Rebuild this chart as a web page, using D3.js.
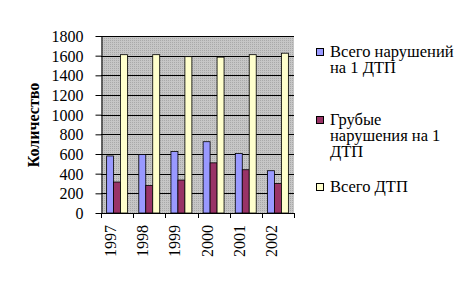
<!DOCTYPE html>
<html>
<head>
<meta charset="utf-8">
<script src="https://cdn.jsdelivr.net/npm/d3@7"></script>
<style>
  body { margin: 0; background: #fff; }
</style>
</head>
<body>
<div id="chart"></div>
<script>
const years = ['1997', '1998', '1999', '2000', '2001', '2002'];
const seriesNames = ['Всего нарушений на 1 ДТП', 'Грубые нарушения на 1 ДТП', 'Всего ДТП'];
const totalViolations = [580, 595, 625, 725, 605, 430];
const grossViolations = [315, 280, 335, 510, 440, 300];
const totalAccidents = [1610, 1610, 1590, 1585, 1610, 1625];
const yTicks = [0, 200, 400, 600, 800, 1000, 1200, 1400, 1600, 1800];

const colors = ['#9999ff', '#993366', '#ffffcc'];
// legend lines as they wrap in the picture
const legendLines = [['Всего нарушений', 'на 1 ДТП'], ['Грубые', 'нарушения на 1', 'ДТП'], ['Всего ДТП']];

const width = 468, height = 283;
const plot = { left: 101, right: 294, top: 36, bottom: 213 };
const serif = '"Liberation Serif"';

const svg = d3.select('#chart').append('svg')
  .attr('width', width)
  .attr('height', height);

// dithered grey background like the old excel pattern
const defs = svg.append('defs');
const pat = defs.append('pattern')
  .attr('id', 'dots')
  .attr('width', 2).attr('height', 2)
  .attr('patternUnits', 'userSpaceOnUse');
pat.append('rect').attr('width', 2).attr('height', 2).attr('fill', '#c6c6c6');
pat.append('rect').attr('width', 1).attr('height', 1).attr('fill', '#a9a9a9');

const x0 = d3.scaleBand()
  .domain(years)
  .range([plot.left, plot.right])
  .paddingInner(0.35)
  .paddingOuter(0.175);

const x1 = d3.scaleBand()
  .domain([0, 1, 2])
  .range([0, x0.bandwidth()]);

const y = d3.scaleLinear()
  .domain([0, 1800])
  .range([plot.bottom, plot.top]);

svg.append('rect')
  .attr('x', plot.left)
  .attr('y', plot.top)
  .attr('width', plot.right - plot.left)
  .attr('height', plot.bottom - plot.top)
  .attr('fill', 'url(#dots)');

// gridlines
svg.append('g')
  .selectAll('line')
  .data(yTicks.slice(1))
  .enter()
  .append('line')
  .attr('x1', plot.left)
  .attr('x2', plot.right)
  .attr('y1', d => Math.round(y(d)) + 0.5)
  .attr('y2', d => Math.round(y(d)) + 0.5)
  .attr('stroke', '#000')
  .attr('stroke-width', 1);

// bars
const rows = years.map((yr, i) => ({ year: yr, values: [totalViolations[i], grossViolations[i], totalAccidents[i]] }));

svg.append('g')
  .selectAll('g')
  .data(rows)
  .enter()
  .append('g')
  .attr('transform', d => `translate(${x0(d.year)},0)`)
  .selectAll('rect')
  .data(d => d.values.map((v, k) => ({ k, v })))
  .enter()
  .append('rect')
  .attr('x', d => x1(d.k))
  .attr('y', d => y(d.v))
  .attr('width', x1.bandwidth())
  .attr('height', d => y(0) - y(d.v))
  .attr('fill', d => colors[d.k])
  .attr('stroke', '#000')
  .attr('stroke-width', 0.8);

// y axis
const yAxis = svg.append('g')
  .attr('transform', `translate(${plot.left + 0.5},0)`)
  .call(d3.axisLeft(y).tickValues(yTicks).tickFormat(d3.format('d')).tickSize(6).tickPadding(12).tickSizeOuter(0));
yAxis.attr('font-family', serif).attr('font-size', 16);
yAxis.select('.domain').attr('stroke', '#000');
yAxis.selectAll('.tick line').attr('stroke', '#000');
yAxis.selectAll('text')
  .style('font-family', serif)
  .attr('fill', '#000')
  .attr('dy', '0.35em');

// x axis, ticks on category boundaries
const xAxisG = svg.append('g');
xAxisG.append('line')
  .attr('x1', plot.left).attr('x2', plot.right)
  .attr('y1', plot.bottom + 0.5).attr('y2', plot.bottom + 0.5)
  .attr('stroke', '#000');
xAxisG.selectAll('.tk')
  .data(d3.range(years.length + 1))
  .enter()
  .append('line')
  .attr('x1', i => Math.round(plot.left + i * x0.step()) + 0.5)
  .attr('x2', i => Math.round(plot.left + i * x0.step()) + 0.5)
  .attr('y1', plot.bottom)
  .attr('y2', plot.bottom + 5)
  .attr('stroke', '#000');

xAxisG.selectAll('text')
  .data(years)
  .enter()
  .append('text')
  .attr('transform', d => `translate(${x0(d) + x0.bandwidth() / 2 - 1},${plot.bottom + 12}) rotate(-90)`)
  .attr('text-anchor', 'end')
  .style('font-family', serif)
  .attr('font-size', '16px')
  .attr('fill', '#000')
  .text(d => d);

// y title
svg.append('text')
  .attr('transform', 'translate(39,125) rotate(-90)')
  .attr('text-anchor', 'middle')
  .style('font-family', serif)
  .attr('font-size', '16px')
  .attr('font-weight', 'bold')
  .text('Количество');

// legend
const legendY = [52, 120, 187];
const legend = svg.append('g');
seriesNames.forEach((name, k) => {
  const g = legend.append('g').attr('transform', `translate(316,${legendY[k]})`);
  g.append('rect')
    .attr('x', 0.5).attr('y', -3.5)
    .attr('width', 7).attr('height', 7)
    .attr('fill', colors[k])
    .attr('stroke', '#000')
    .attr('stroke-width', 1);
  legendLines[k].forEach((line, j) => {
    g.append('text')
      .attr('x', 14)
      .attr('y', 5 + j * 16)
      .style('font-family', serif)
      .attr('font-size', '16.5px')
      .text(line);
  });
});
</script>
</body>
</html>
